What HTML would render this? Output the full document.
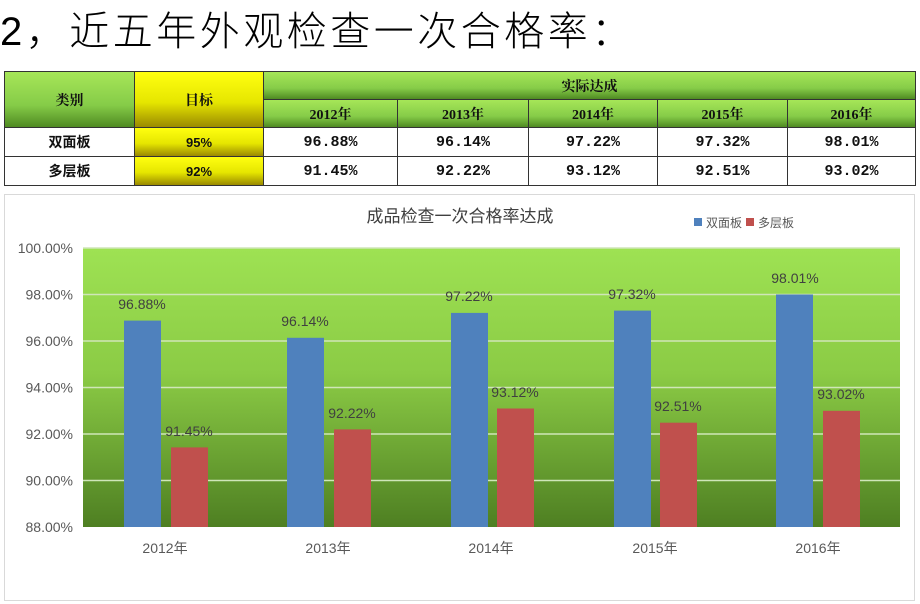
<!DOCTYPE html>
<html><head><meta charset="utf-8"><style>
body{margin:0;width:920px;height:604px;background:#fff;position:relative;overflow:hidden;font-family:"Liberation Sans","Noto Sans CJK SC",sans-serif}
.t{position:absolute;left:0;top:4px;font-size:40px;line-height:56px;font-family:"Liberation Sans","Noto Sans CJK SC",sans-serif;font-weight:300;color:#000;letter-spacing:3.5px;white-space:nowrap}
.c{position:absolute;box-sizing:border-box;border:1px solid #333;display:flex;align-items:center;justify-content:center;font-size:14px;font-weight:bold;color:#111;font-family:"Liberation Serif","Noto Serif CJK SC",serif}
.g{background:linear-gradient(#a6e658,#86cc48 60%,#4f8a22)}
.y{background:linear-gradient(#ffff10,#e6e600 55%,#9a8a00)}
.w{background:#fff;font-family:"Liberation Mono","Noto Sans CJK SC",monospace;font-size:15px}
</style></head><body>
<div class="t">2，近五年外观检查一次合格率：</div>
<div class="c g" style="left:4px;top:71px;width:131px;height:57px">类别</div>
<div class="c y" style="left:134px;top:71px;width:130px;height:57px">目标</div>
<div class="c g" style="left:263px;top:71px;width:653px;height:29px">实际达成</div>
<div class="c g" style="left:263px;top:99px;width:135px;height:29px">2012年</div>
<div class="c g" style="left:397px;top:99px;width:132px;height:29px">2013年</div>
<div class="c g" style="left:528px;top:99px;width:130px;height:29px">2014年</div>
<div class="c g" style="left:657px;top:99px;width:131px;height:29px">2015年</div>
<div class="c g" style="left:787px;top:99px;width:129px;height:29px">2016年</div>
<div class="c" style="left:4px;top:127px;width:131px;height:30px;background:#fff;font-family:'Liberation Sans','Noto Sans CJK SC',sans-serif">双面板</div>
<div class="c y" style="left:134px;top:127px;width:130px;height:30px;font-family:'Liberation Sans',sans-serif;font-size:13px">95%</div>
<div class="c w" style="left:263px;top:127px;width:135px;height:30px">96.88%</div>
<div class="c w" style="left:397px;top:127px;width:132px;height:30px">96.14%</div>
<div class="c w" style="left:528px;top:127px;width:130px;height:30px">97.22%</div>
<div class="c w" style="left:657px;top:127px;width:131px;height:30px">97.32%</div>
<div class="c w" style="left:787px;top:127px;width:129px;height:30px">98.01%</div>
<div class="c" style="left:4px;top:156px;width:131px;height:30px;background:#fff;font-family:'Liberation Sans','Noto Sans CJK SC',sans-serif">多层板</div>
<div class="c y" style="left:134px;top:156px;width:130px;height:30px;font-family:'Liberation Sans',sans-serif;font-size:13px">92%</div>
<div class="c w" style="left:263px;top:156px;width:135px;height:30px">91.45%</div>
<div class="c w" style="left:397px;top:156px;width:132px;height:30px">92.22%</div>
<div class="c w" style="left:528px;top:156px;width:130px;height:30px">93.12%</div>
<div class="c w" style="left:657px;top:156px;width:131px;height:30px">92.51%</div>
<div class="c w" style="left:787px;top:156px;width:129px;height:30px">93.02%</div>
<svg style="position:absolute;left:0;top:0" width="920" height="604" font-family="Liberation Sans,Noto Sans CJK SC,sans-serif">
<defs><linearGradient id="bg" x1="0" y1="0" x2="0" y2="1"><stop offset="0" stop-color="#9ee253"/><stop offset="0.45" stop-color="#8bcb45"/><stop offset="1" stop-color="#4e7f22"/></linearGradient></defs>
<rect x="4.5" y="194.5" width="910" height="406" fill="#fff" stroke="#d9d9d9"/>
<text x="460" y="222" font-size="17" fill="#404040" text-anchor="middle">成品检查一次合格率达成</text>
<rect x="694" y="218" width="8" height="8" fill="#4f81bd"/><text x="706" y="227" font-size="12" fill="#595959">双面板</text>
<rect x="746" y="218" width="8" height="8" fill="#c0504d"/><text x="758" y="227" font-size="12" fill="#595959">多层板</text>
<rect x="83" y="248" width="817" height="279" fill="url(#bg)"/>
<g stroke="#cfe6b8" stroke-width="1.5"><line x1="83" x2="900" y1="248" y2="248"/><line x1="83" x2="900" y1="294.5" y2="294.5"/><line x1="83" x2="900" y1="341" y2="341"/><line x1="83" x2="900" y1="387.5" y2="387.5"/><line x1="83" x2="900" y1="434" y2="434"/><line x1="83" x2="900" y1="480.5" y2="480.5"/></g>
<g font-size="14" fill="#595959" text-anchor="end"><text x="73" y="253">100.00%</text><text x="73" y="299.5">98.00%</text><text x="73" y="346">96.00%</text><text x="73" y="392.5">94.00%</text><text x="73" y="439">92.00%</text><text x="73" y="485.5">90.00%</text><text x="73" y="532">88.00%</text></g>
<g fill="#4f81bd"><rect x="124" y="320.6" width="37" height="206.4"/><rect x="287" y="337.8" width="37" height="189.2"/><rect x="451" y="312.9" width="37" height="214.1"/><rect x="614" y="310.6" width="37" height="216.4"/><rect x="776" y="294.5" width="37" height="232.5"/></g>
<g fill="#c0504d"><rect x="171" y="447.4" width="37" height="79.6"/><rect x="334" y="429.4" width="37" height="97.6"/><rect x="497" y="408.5" width="37" height="118.5"/><rect x="660" y="422.7" width="37" height="104.3"/><rect x="823" y="410.8" width="37" height="116.2"/></g>
<g font-size="14" fill="#404040" text-anchor="middle"><text x="142" y="309">96.88%</text><text x="305" y="326">96.14%</text><text x="469" y="301">97.22%</text><text x="632" y="299">97.32%</text><text x="795" y="283">98.01%</text>
<text x="189" y="436">91.45%</text><text x="352" y="418">92.22%</text><text x="515" y="397">93.12%</text><text x="678" y="411">92.51%</text><text x="841" y="399">93.02%</text></g>
<g font-size="14" fill="#595959" text-anchor="middle"><text x="165" y="553">2012年</text><text x="328" y="553">2013年</text><text x="491" y="553">2014年</text><text x="655" y="553">2015年</text><text x="818" y="553">2016年</text></g>
</svg>
</body></html>
